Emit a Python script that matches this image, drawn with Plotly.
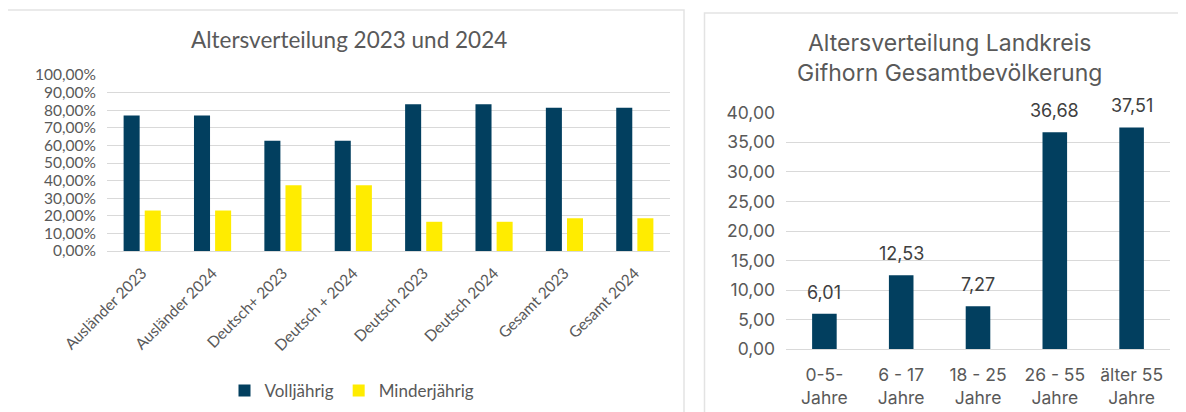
import plotly.graph_objects as go

# ---- data ----
left_categories = ["Ausländer 2023", "Ausländer 2024", "Deutsch+ 2023", "Deutsch + 2024",
                   "Deutsch 2023", "Deutsch 2024", "Gesamt 2023", "Gesamt 2024"]
volljaehrig = [0.770, 0.770, 0.627, 0.627, 0.834, 0.834, 0.814, 0.814]
minderjaehrig = [0.230, 0.230, 0.373, 0.373, 0.166, 0.166, 0.186, 0.186]

right_categories = ["0-5-<br>Jahre", "6 - 17<br>Jahre", "18 - 25<br>Jahre",
                    "26 - 55<br>Jahre", "älter 55<br>Jahre"]
gesamt_values = [6.01, 12.53, 7.27, 36.68, 37.51]

# page body has an 8px margin; figure sized to fit the 1186x412 window exactly
OFF = 8
W, H = 1186 - OFF, 412 - OFF
DARK = "#023f5f"
YELLOW = "#ffec00"
GRID = "#d9d9d9"
TXT = "#595959"
LFONT = "Lato"
RFONT = "Inter"

def px_x(v):
    return (v - OFF) / W

def px_y(v):
    return 1 - (v - OFF) / H

fig = go.Figure()
fig.add_trace(go.Bar(x=left_categories, y=volljaehrig, name="Volljährig",
                     marker=dict(color=DARK, line=dict(width=0)), xaxis="x", yaxis="y"))
fig.add_trace(go.Bar(x=left_categories, y=minderjaehrig, name="Minderjährig",
                     marker=dict(color=YELLOW, line=dict(width=0)), xaxis="x", yaxis="y"))
fig.add_trace(go.Bar(x=right_categories, y=gesamt_values, name="Gesamt", showlegend=False,
                     marker=dict(color=DARK, line=dict(width=0)), width=0.32,
                     xaxis="x2", yaxis="y2"))

# value labels above right bars
for cat, val in zip(right_categories, gesamt_values):
    fig.add_annotation(x=cat, y=val, xref="x2", yref="y2", text=f"{val:.2f}".replace(".", ","),
                       showarrow=False, yanchor="bottom", yshift=9,
                       font=dict(family=RFONT, size=18, color="#404040"))

fig.update_layout(
    width=W, height=H, autosize=False,
    margin=dict(l=0, r=0, t=0, b=0, pad=0, autoexpand=False),
    paper_bgcolor="white", plot_bgcolor="white",
    separators=",.",
    barmode="group", bargap=0.40, bargroupgap=0.24,
    showlegend=True,
    legend=dict(orientation="h", x=px_x(352), xanchor="center", y=px_y(391), yanchor="middle",
                font=dict(family=LFONT, size=17, color=TXT), itemwidth=30,
                bgcolor="rgba(0,0,0,0)"),
    xaxis=dict(domain=[px_x(107), px_x(670)], anchor="y", tickangle=-45, automargin=False,
               tickfont=dict(family=LFONT, size=15.5, color=TXT), showgrid=False,
               ticklabelstandoff=6,
               showline=True, linecolor=GRID, ticks="", fixedrange=True),
    yaxis=dict(domain=[px_y(251), px_y(75)], anchor="x", range=[0, 1], dtick=0.1, automargin=False,
               tickformat=".2%", showgrid=True, gridcolor=GRID, gridwidth=1, zeroline=False,
               tickfont=dict(family=LFONT, size=15.5, color=TXT), ticks="",
               ticklabelstandoff=10,
               showline=False, fixedrange=True),
    xaxis2=dict(domain=[px_x(786), px_x(1170)], anchor="y2", automargin=False,
                tickfont=dict(family=RFONT, size=17.5, color=TXT), showgrid=False,
                ticklabelstandoff=10,
                showline=True, linecolor=GRID, ticks="", fixedrange=True),
    yaxis2=dict(domain=[px_y(349.3), px_y(112.7)], anchor="x2", range=[0, 40], dtick=5,
                automargin=False,
                tickformat=".2f", showgrid=True, gridcolor=GRID, gridwidth=1, zeroline=False,
                tickfont=dict(family=RFONT, size=17.5, color=TXT), ticks="",
                ticklabelstandoff=10,
                showline=False, fixedrange=True),
)

# titles
fig.add_annotation(text="Altersverteilung 2023 und 2024", xref="paper", yref="paper",
                   x=px_x(349), y=px_y(40), xanchor="center", yanchor="middle", showarrow=False,
                   font=dict(family=LFONT, size=22.5, color=TXT))
fig.add_annotation(text="Altersverteilung Landkreis<br>Gifhorn Gesamtbevölkerung", xref="paper",
                   yref="paper", x=px_x(949), y=px_y(58), xanchor="center", yanchor="middle",
                   showarrow=False, font=dict(family=RFONT, size=23, color=TXT))

# panel borders
fig.add_shape(type="rect", xref="paper", yref="paper", x0=px_x(6), x1=px_x(684),
              y0=px_y(430), y1=px_y(10), line=dict(color="#e3e3e3", width=1.5), layer="below")
fig.add_shape(type="rect", xref="paper", yref="paper", x0=px_x(704.5), x1=px_x(1200),
              y0=px_y(430), y1=px_y(13), line=dict(color="#e3e3e3", width=1.5), layer="below")

fig.write_html("out.html")
